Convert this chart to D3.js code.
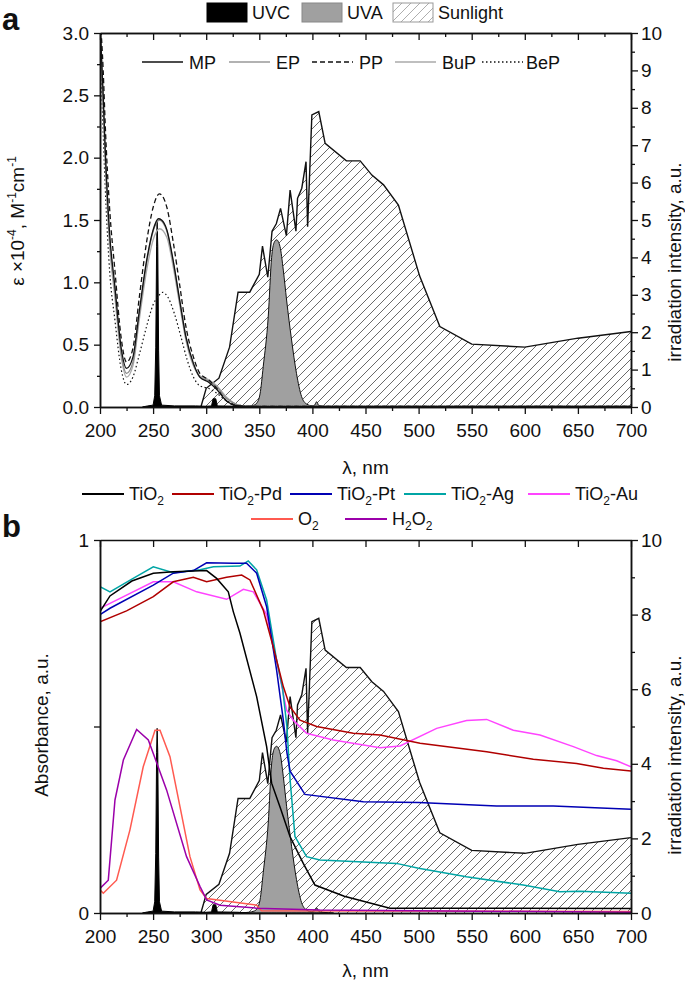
<!DOCTYPE html>
<html><head><meta charset="utf-8">
<script src="https://cdn.jsdelivr.net/npm/d3@7"></script>
<style>body{margin:0;background:#fff} text{font-family:"Liberation Sans",Arial,sans-serif;fill:#111}</style>
</head><body><svg id="c" width="685" height="984"></svg>
<script>
// ---------- data ----------
const xTicks = [200,250,300,350,400,450,500,550,600,650,700];
const sunlight = [[295,0],[300,0.5],[312,0.77],[322,1.6],[330,3.07],[341,3.07],[350,3.55],[353,4.3],[358,3.47],[362,4.7],[366,4.9],[370,5.31],[375.5,4.58],[379,5.8],[384.5,4.7],[386,5.58],[390,5.85],[394,6.56],[395.5,4.82],[399.5,7.81],[406,7.9],[412,7.05],[432,6.58],[445,6.58],[456,6.2],[467,5.94],[481,5.4],[501,3.5],[520,2.15],[550,1.68],[600,1.6],[650,1.84],[700,2.02]];
const uva = [[330,0],[340,0.02],[345,0.05],[347.5,0.1],[350.7,0.35],[353.7,1.08],[358.4,2.41],[361.6,4.0],[364,4.4],[366.3,4.47],[369.5,4.29],[372.6,3.66],[375.7,2.86],[380.4,1.79],[385,0.9],[389.8,0.28],[394.5,0.08],[400,0.03],[402,0.05],[404,0.14],[406,0.04],[410,0.02],[420,0]];
const uvc = [[240,0],[245,0.03],[250,0.05],[251.5,0.3],[252.5,1.6],[253.3,4.3],[253.8,4.95],[254.4,4.3],[255.2,1.5],[256,0.3],[258,0.05],[270,0.03],[290,0.03],[300,0.02],[305,0.03],[306.5,0.22],[309,0.22],[310.5,0.03],[330,0.02],[340,0]];

// panel a : epsilon x 1e-4
const MP  = [[200,3.1],[203,2.5],[205,2.05],[209,1.4],[214,0.97],[220,0.47],[225,0.31],[231,0.4],[237,0.77],[244,1.18],[250,1.42],[255,1.51],[258,1.5],[263,1.42],[269,1.17],[275,0.86],[281,0.56],[288,0.35],[294,0.24],[302,0.2],[310,0.14],[319,0.05],[329,0.01],[340,0.005],[700,0.005]];
const EP  = [[200,3.05],[203,2.45],[205,2.0],[209,1.35],[214,0.93],[220,0.43],[225,0.27],[231,0.36],[237,0.74],[244,1.16],[250,1.41],[256,1.5],[263,1.41],[269,1.16],[275,0.85],[281,0.55],[288,0.34],[294,0.24],[302,0.21],[310,0.16],[319,0.07],[329,0.02],[340,0.005],[700,0.005]];
const PP  = [[200,3.15],[203,2.7],[205,2.25],[209,1.6],[214,1.1],[220,0.55],[225,0.36],[231,0.47],[237,0.88],[244,1.33],[250,1.6],[256,1.71],[263,1.6],[269,1.32],[275,0.98],[281,0.64],[288,0.4],[294,0.27],[302,0.22],[310,0.15],[319,0.05],[329,0.01],[340,0.005],[700,0.005]];
const BuP = [[200,3.0],[203,2.4],[205,1.95],[209,1.3],[214,0.88],[220,0.4],[225,0.24],[231,0.33],[237,0.7],[244,1.1],[250,1.34],[256,1.43],[263,1.36],[269,1.12],[275,0.82],[281,0.53],[288,0.33],[294,0.25],[302,0.22],[310,0.17],[319,0.08],[329,0.02],[340,0.005],[700,0.005]];
const BeP = [[200,2.95],[203,2.2],[205,1.75],[209,1.1],[214,0.7],[220,0.3],[225,0.18],[231,0.24],[237,0.42],[244,0.65],[250,0.82],[255,0.89],[259,0.92],[264,0.88],[270,0.75],[276,0.57],[282,0.38],[288,0.24],[294,0.17],[302,0.15],[310,0.11],[319,0.05],[329,0.02],[340,0.005],[700,0.005]];

// panel b : absorbance
const TiO2   = [[200,0.808],[209.4,0.85],[230,0.89],[250.2,0.911],[269,0.915],[300.4,0.918],[309.8,0.897],[320.8,0.861],[325.5,0.808],[331.8,0.75],[347.5,0.58],[356.9,0.446],[361.6,0.348],[370,0.28],[378.9,0.205],[391.4,0.133],[402.4,0.075],[430,0.045],[473,0.013],[700,0.012]];
const TiO2Pd = [[200,0.781],[225,0.81],[250.2,0.848],[269,0.888],[287.9,0.9],[300.4,0.888],[319.2,0.9],[333.4,0.906],[341.2,0.893],[353.7,0.812],[363.1,0.714],[372.6,0.607],[378.9,0.553],[388.3,0.517],[404,0.5],[438.5,0.482],[463.7,0.477],[501.4,0.455],[564.1,0.432],[608,0.412],[648.8,0.401],[674,0.388],[700,0.381]];
const TiO2Pt = [[200,0.8],[209.4,0.817],[250.2,0.879],[269,0.911],[287.9,0.918],[300.4,0.939],[325.5,0.938],[338,0.938],[347.5,0.911],[356.9,0.821],[366.3,0.651],[372.6,0.517],[376,0.43],[379,0.38],[393,0.318],[447.9,0.298],[500,0.296],[573.4,0.287],[626.8,0.287],[700,0.278]];
const TiO2Ag = [[200,0.875],[209.4,0.861],[230,0.895],[250.2,0.928],[269,0.912],[294.2,0.92],[306.8,0.928],[331.8,0.93],[339.6,0.944],[347.5,0.92],[356.9,0.839],[366.3,0.678],[372,0.6],[376,0.5],[379,0.357],[383.6,0.205],[394.5,0.151],[407,0.142],[479,0.133],[500,0.12],[545,0.097],[598.5,0.075],[633,0.057],[652,0.058],[700,0.053]];
const TiO2Au = [[200,0.817],[209.4,0.83],[250.2,0.888],[269,0.888],[291,0.861],[319.2,0.841],[335,0.868],[344.4,0.861],[356.9,0.8],[366.3,0.678],[375.7,0.544],[381.9,0.517],[394.5,0.482],[419.6,0.464],[463.7,0.443],[482.5,0.448],[517,0.495],[545.2,0.516],[564.1,0.519],[589.2,0.49],[614.3,0.477],[645.7,0.446],[667.6,0.422],[686.5,0.408],[700,0.392]];
const O3     = [[200,0.062],[203.1,0.053],[215.6,0.088],[228.2,0.223],[240.7,0.392],[251.8,0.49],[256.5,0.49],[265.9,0.419],[275.3,0.285],[284.7,0.151],[294.2,0.062],[300.4,0.039],[347.5,0.021],[352,0.006],[700,0.004]];
const H2O2   = [[200,0.066],[207.8,0.088],[214.1,0.303],[222,0.41],[234.5,0.492],[245.5,0.464],[262.7,0.33],[281.5,0.151],[294.2,0.071],[300.4,0.035],[313,0.021],[347.5,0.013],[407,0.008],[700,0.002]];

// ---------- drawing ----------
const svg = d3.select("#c");
const defs = svg.append("defs");
function hatch(id, color, w){
  defs.append("pattern").attr("id",id).attr("patternUnits","userSpaceOnUse")
    .attr("width",9).attr("height",9)
    .append("path").attr("d","M-1,10 L10,-1 M-3,3 L3,-3 M6,12 L12,6")
    .attr("stroke",color).attr("stroke-width",w).attr("fill","none");
}
hatch("hatch","#444",0.8);
hatch("hatchL","#999",0.8);

const X0=100, X1=631;
const x = d3.scaleLinear([200,700],[X0,X1]);

function panel(cfg){
  const g = svg.append("g");
  const {top,bot} = cfg;
  const yL = d3.scaleLinear(cfg.yLdom,[bot,top]);
  const yR = d3.scaleLinear([0,10],[bot,top]);
  const cid = "clip"+cfg.id;
  defs.append("clipPath").attr("id",cid).append("rect").attr("x",X0).attr("y",top).attr("width",X1-X0).attr("height",bot-top);
  const pg = g.append("g").attr("clip-path",`url(#${cid})`);
  const areaR = d3.area().x(d=>x(d[0])).y0(yR(0)).y1(d=>yR(d[1]));
  const lineR = d3.line().x(d=>x(d[0])).y(d=>yR(d[1]));
  pg.append("path").datum(sunlight).attr("d",areaR).attr("fill","url(#hatch)");
  pg.append("path").datum(sunlight).attr("d",lineR).attr("fill","none").attr("stroke","#111").attr("stroke-width",1.4);
  pg.append("path").datum(uva).attr("d",areaR.curve(d3.curveMonotoneX)).attr("fill","#a0a0a0").attr("stroke","#111").attr("stroke-width",1);
  pg.append("path").datum(uvc).attr("d",areaR.curve(d3.curveLinear)).attr("fill","#000").attr("stroke","#000").attr("stroke-width",1);
  cfg.series.forEach(s=>{
    const ln = d3.line().x(d=>x(d[0])).y(d=>yL(d[1])).curve(cfg.curve);
    pg.append("path").datum(s.data).attr("d",ln).attr("fill","none")
      .attr("stroke",s.color).attr("stroke-width",s.w||1.5).attr("stroke-dasharray",s.dash||null);
  });
  // axes
  const fs = "19px";
  const ax = (sel)=>{sel.select(".domain").attr("stroke","#111").attr("stroke-width",1.5);
    sel.selectAll(".tick line").attr("stroke","#111").attr("stroke-width",1.3);
    sel.selectAll("text").style("font-size",fs).attr("fill","#111");};
  const noText = (sel)=>sel.selectAll(".tick text").remove();
  const minorX = d3.range(225,700,50);
  g.append("g").attr("transform",`translate(0,${bot})`).call(d3.axisBottom(x).tickValues(minorX).tickSize(4).tickSizeOuter(0)).call(noText).call(ax);
  g.append("g").attr("transform",`translate(0,${bot})`).call(d3.axisBottom(x).tickValues(xTicks).tickSize(7).tickPadding(10).tickFormat(d3.format("d")).tickSizeOuter(0)).call(ax);
  g.append("g").attr("transform",`translate(0,${top})`).call(d3.axisBottom(x).tickValues(xTicks).tickSize(7).tickSizeOuter(0)).call(noText).call(ax);
  if(cfg.topMinor) g.append("g").attr("transform",`translate(0,${top})`).call(d3.axisBottom(x).tickValues(minorX).tickSize(4).tickSizeOuter(0)).call(noText).call(ax);
  if(cfg.yLminor.length) g.append("g").attr("transform",`translate(${X0},0)`).call(d3.axisLeft(yL).tickValues(cfg.yLminor).tickSize(3).tickSizeOuter(0)).call(noText).call(ax);
  g.append("g").attr("transform",`translate(${X0},0)`).call(d3.axisLeft(yL).tickValues(cfg.yLticks).tickSize(6).tickPadding(5).tickFormat(cfg.yLfmt).tickSizeOuter(0)).call(ax);
  if(cfg.yLunlabeled) g.append("g").attr("transform",`translate(${X0},0)`).call(d3.axisLeft(yL).tickValues(cfg.yLunlabeled).tickSize(6).tickSizeOuter(0)).call(noText).call(ax);
  g.append("g").attr("transform",`translate(${X1},0)`).call(d3.axisRight(yR).tickValues(cfg.yRminor).tickSize(4).tickSizeOuter(0)).call(noText).call(ax);
  g.append("g").attr("transform",`translate(${X1},0)`).call(d3.axisRight(yR).tickValues(cfg.yRticks).tickSize(7).tickPadding(3).tickFormat(d3.format("d")).tickSizeOuter(0)).call(ax);
  // titles
  g.append("text").attr("x",(X0+X1)/2).attr("y",cfg.xTitleY).attr("text-anchor","middle").style("font-size","19px").text("λ, nm");
  g.append("text").attr("transform",`translate(681,${cfg.rTitleY}) rotate(-90)`).attr("text-anchor","middle").style("font-size","19px").text("irradiation intensity, a.u.");
  g.append("text").attr("x",2).attr("y",cfg.letterY).style("font-size","31px").style("font-weight","bold").text(cfg.letter);
  return {g,yL,yR};
}

const A = panel({id:"a",top:33,bot:407,yLdom:[0,3],yLticks:[0,0.5,1,1.5,2,2.5,3],yLminor:d3.range(0.25,3,0.5),
  yLfmt:d3.format(".1f"),yRticks:d3.range(0,11,1),yRminor:d3.range(0.5,10,1),topMinor:true,
  curve:d3.curveMonotoneX,xTitleY:474,rTitleY:262,letter:"a",letterY:30,
  series:[{data:BeP,color:"#111",w:1.2,dash:"1.5,2.5"},{data:BuP,color:"#aaa",w:1.3},{data:EP,color:"#888",w:1.3},{data:PP,color:"#111",w:1.3,dash:"5,3"},{data:MP,color:"#111",w:1.3}]});

const B = panel({id:"b",top:540,bot:913,yLdom:[0,1],yLticks:[0,1],yLunlabeled:[0.5],yLminor:[],
  yLfmt:d3.format("d"),yRticks:[0,2,4,6,8,10],yRminor:[1,3,5,7,9],topMinor:false,
  curve:d3.curveLinear,xTitleY:977,rTitleY:755,letter:"b",letterY:537,
  series:[{data:O3,color:"#ff5a50"},{data:H2O2,color:"#9b00aa"},{data:TiO2Au,color:"#ff44ff"},{data:TiO2Ag,color:"#00a5a5"},{data:TiO2Pt,color:"#0000b4"},{data:TiO2Pd,color:"#b00000"},{data:TiO2,color:"#000"}]});

// left titles
const tA = svg.append("text").attr("transform","translate(24,221) rotate(-90)").attr("text-anchor","middle").style("font-size","19px");
tA.append("tspan").text("ε ×10");
tA.append("tspan").attr("dy",-8).style("font-size","12px").text("-4");
tA.append("tspan").attr("dy",8).text(", M");
tA.append("tspan").attr("dy",-8).style("font-size","12px").text("-1");
tA.append("tspan").attr("dy",8).text("cm");
tA.append("tspan").attr("dy",-8).style("font-size","12px").text("-1");
svg.append("text").attr("transform","translate(48,725) rotate(-90)").attr("text-anchor","middle").style("font-size","19px").text("Absorbance, a.u.");

// top legend
const topLeg = [{label:"UVC",x:207,fill:"#000",stroke:"#000"},{label:"UVA",x:302,fill:"#a0a0a0",stroke:"#888"},{label:"Sunlight",x:393,fill:"url(#hatchL)",stroke:"#999"}];
topLeg.forEach(d=>{
  svg.append("rect").attr("x",d.x).attr("y",3).attr("width",40).attr("height",19).attr("fill",d.fill).attr("stroke",d.stroke).attr("stroke-width",1);
  svg.append("text").attr("x",d.x+45).attr("y",19).style("font-size","18px").text(d.label);
});

// panel a legend
const legA = [{label:"MP",x:142,color:"#111"},{label:"EP",x:229,color:"#999"},{label:"PP",x:312,color:"#111",dash:"5,3"},{label:"BuP",x:395,color:"#aaa"},{label:"BeP",x:482,color:"#111",dash:"1.5,2.5"}];
legA.forEach(d=>{
  svg.append("line").attr("x1",d.x).attr("x2",d.x+41).attr("y1",62).attr("y2",62).attr("stroke",d.color).attr("stroke-width",1.3).attr("stroke-dasharray",d.dash||null);
  svg.append("text").attr("x",d.x+(d.dash==="1.5,2.5"?44:47)).attr("y",69).style("font-size","18px").text(d.label);
});

// panel b legend
const legB = [{pre:"TiO",post:"",x:82,y:494,color:"#000"},{pre:"TiO",post:"-Pd",x:172,y:494,color:"#b00000"},{pre:"TiO",post:"-Pt",x:290,y:494,color:"#0000b4"},{pre:"TiO",post:"-Ag",x:404,y:494,color:"#00a5a5"},{pre:"TiO",post:"-Au",x:528,y:494,color:"#ff44ff"},{pre:"O",post:"",x:251,y:519,color:"#ff5a50"},{pre:"H",mid:"O",post:"",x:345,y:519,color:"#9b00aa"}];
legB.forEach(d=>{
  svg.append("line").attr("x1",d.x).attr("x2",d.x+42).attr("y1",d.y).attr("y2",d.y).attr("stroke",d.color).attr("stroke-width",1.8);
  const t = svg.append("text").attr("x",d.x+47).attr("y",d.y+6).style("font-size","18px");
  t.append("tspan").text(d.pre);
  t.append("tspan").attr("dy",5).style("font-size","12px").text("2");
  if(d.mid){t.append("tspan").attr("dy",-5).text(d.mid);t.append("tspan").attr("dy",5).style("font-size","12px").text("2");}
  if(d.post) t.append("tspan").attr("dy",-5).text(d.post);
});
</script></body></html>
